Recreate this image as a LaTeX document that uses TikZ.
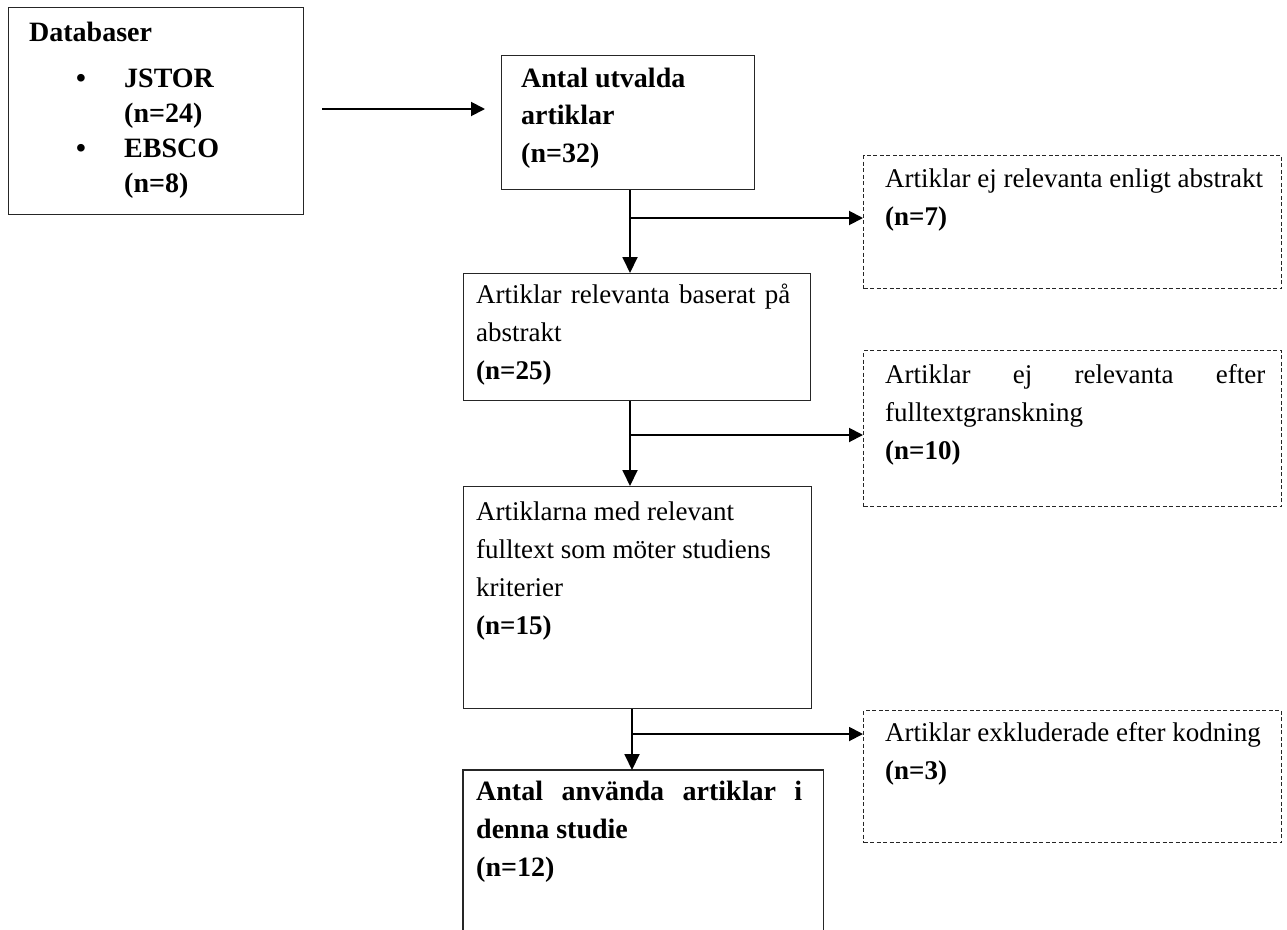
\documentclass[tikz,border=0pt]{standalone}
\usepackage{fontspec}
\setmainfont{Liberation Serif}
\usetikzlibrary{arrows.meta}
\newcommand{\mylines}[2]{\vtop{\hsize=#1\parindent=0pt\noindent #2\par}}
\begin{document}
\begin{tikzpicture}[x=1pt,y=-1pt,
  box/.style={draw=black!85, line width=1.3pt, inner sep=0pt, anchor=north west},
  dbox/.style={draw=black!85, line width=1pt, dash pattern=on 4pt off 2.5pt, inner sep=0pt, anchor=north west},
  txt/.style={anchor=base west, inner sep=0pt, font=\fontsize{27}{38}\selectfont},
  btxt/.style={anchor=base west, inner sep=0pt, font=\fontsize{28}{38}\selectfont\bfseries},
  dbtxt/.style={anchor=base west, inner sep=0pt, font=\fontsize{28}{35}\selectfont\bfseries},
  arr/.style={line width=1.9pt, -{Triangle[length=16pt,width=15pt]}},
  harr/.style={line width=1.9pt, -{Triangle[length=14pt,width=14pt]}}]
\useasboundingbox (0,0) rectangle (1287,929);

% boxes
\node[box, minimum width=295pt, minimum height=207pt] (db) at (8,7) {};
\node[box, minimum width=253pt, minimum height=134pt] (a1) at (501,55) {};
\node[box, minimum width=347pt, minimum height=127pt] (b2) at (463,273) {};
\node[box, minimum width=348pt, minimum height=222pt] (b3) at (463,486) {};
\node[inner sep=0pt, anchor=north west, minimum width=360pt, minimum height=161pt] (b4) at (463,770) {};
\draw[draw=black!85, line width=1.3pt] (b4.south west) -- (b4.north west) -- (b4.north east) -- (b4.south east);
\node[dbox, minimum width=418pt, minimum height=133pt] (d1) at (863,155) {};
\node[dbox, minimum width=418pt, minimum height=156pt] (d2) at (863,350) {};
\node[dbox, minimum width=418pt, minimum height=132pt] (d3) at (863,710) {};

% Databaser texts
\node[dbtxt] (tdb) at (29,41) {Databaser};
\node[dbtxt] (bu1) at (76,87) {•};
\node[dbtxt] (t1) at (124,87) {JSTOR};
\node[dbtxt] (t2) at (124,122) {(n=24)};
\node[dbtxt] (bu2) at (76,157) {•};
\node[dbtxt] (t3) at (124,157) {EBSCO};
\node[dbtxt] (t4) at (124,192) {(n=8)};

% main box texts
\node[btxt, font=\fontsize{28}{37.5}\selectfont\bfseries] (ta1) at (521,87) {\mylines{230pt}{Antal utvalda\\artiklar\\(n=32)}};
\node[txt] (tb2) at (476,303) {\mylines{320pt}{\makebox[314pt][s]{Artiklar relevanta baserat på}\\abstrakt\\\textbf{(n=25)}}};
\node[txt] (tb3) at (476,520) {\mylines{330pt}{Artiklarna med relevant\\fulltext som möter studiens\\kriterier\\\textbf{(n=15)}}};
\node[btxt] (tb4) at (476,800) {\mylines{330pt}{\makebox[326pt][s]{Antal använda artiklar i}\\denna studie\\(n=12)}};

% dashed box texts
\node[txt] (td1) at (885,187) {\mylines{395pt}{Artiklar ej relevanta enligt abstrakt\\\textbf{(n=7)}}};
\node[txt] (td2) at (885,383) {\mylines{395pt}{\makebox[380pt][s]{Artiklar ej relevanta efter}\\fulltextgranskning\\\textbf{(n=10)}}};
\node[txt] (td3) at (885,741) {\mylines{395pt}{Artiklar exkluderade efter kodning\\\textbf{(n=3)}}};

% connectors
\coordinate (s0) at (322,109);
\coordinate (e0) at (485,109);
\draw[harr] (s0) -- (e0);

\coordinate (j1) at (630,218);
\coordinate (j2) at (630,435);
\coordinate (j3) at (632,734);
\draw[arr] (j1 |- a1.south) -- (j1 |- b2.north);
\draw[harr] (j1) -- (j1 -| d1.west);
\draw[arr] (j2 |- b2.south) -- (j2 |- b3.north);
\draw[harr] (j2) -- (j2 -| d2.west);
\draw[arr] (j3 |- b3.south) -- (j3 |- b4.north);
\draw[harr] (j3) -- (j3 -| d3.west);
\end{tikzpicture}
\end{document}
